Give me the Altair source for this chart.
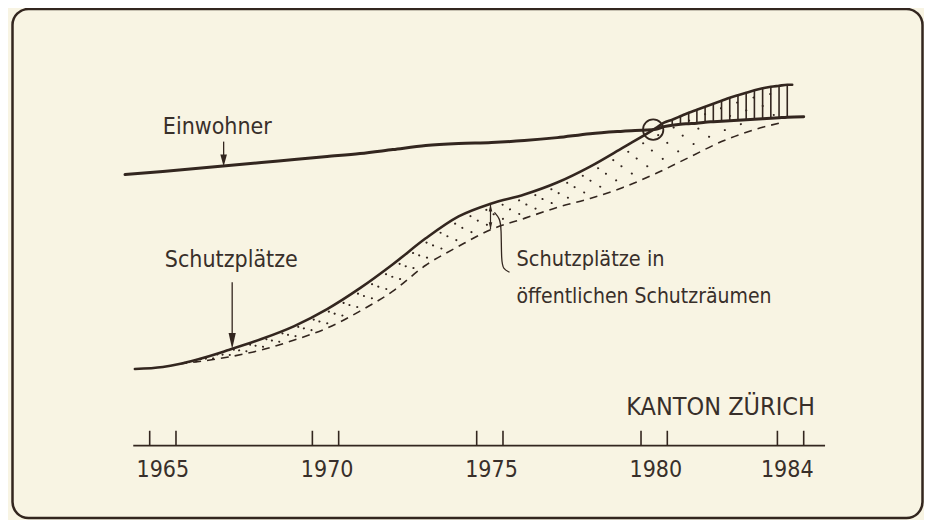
import altair as alt
import pandas as pd

# ---------------- data (arbitrary height units above the time axis) -------------
years_einw = [1963.85, 1965, 1966, 1967, 1968, 1969, 1970, 1971, 1972, 1973, 1974, 1975, 1976,
              1977, 1978, 1979, 1980, 1980.25, 1980.5, 1980.75, 1981, 1981.25, 1981.5, 1981.75,
              1982, 1982.25, 1982.5, 1982.75, 1983, 1983.25, 1983.5, 1983.75, 1984, 1984.5]
einwohner = [272, 275, 278, 281, 284, 287, 290, 293, 297, 301, 303, 304, 306,
             309, 313, 315.5, 317.5, 320, 321.5, 322.5, 323, 323.5, 324.5, 325,
             325.5, 326, 326.5, 327, 327.5, 328, 328.5, 329, 329.5, 330]

years_schutz = [1964.15, 1965, 1965.5, 1966, 1967, 1968, 1969, 1970, 1971, 1972, 1973, 1974,
                1975, 1976, 1977, 1978, 1979, 1980, 1980.25, 1980.5, 1980.75, 1981, 1981.25,
                1981.5, 1981.75, 1982, 1982.25, 1982.5, 1982.75, 1983, 1983.25, 1983.5,
                1983.75, 1984, 1984.15]
schutzplaetze = [77, 79, 82, 86, 96, 107, 120, 137, 158, 182, 208, 230,
                 243, 252, 264, 280, 299, 318.5, 324, 327, 330.5, 334, 337,
                 340, 343, 346, 349, 351.5, 354, 356.5, 358.5, 360,
                 361, 362, 362]

years_public = [1965.5, 1966, 1967, 1968, 1969, 1970, 1971, 1972, 1973, 1974, 1975, 1976,
                1977, 1978, 1979, 1980, 1981, 1982, 1983, 1983.75]
oeffentlich = [82, 84, 89, 96, 106, 118, 135, 155, 181, 200, 217, 228,
               239, 248, 259, 273, 289, 305, 317, 323.5]

crossing_year = [1979.92]
crossing_value = [317]

label_years = [1965, 1970, 1975, 1980, 1984]
label_texts = ["1965", "1970", "1975", "1980", "1984"]
tick_years = [1964.6, 1965.4, 1969.55, 1970.35, 1974.55, 1975.35, 1979.55, 1980.35, 1983.7, 1984.5]
axis_extent = [1964.1, 1985.15]

ann_texts = ["Einwohner", "Schutzplätze", "Schutzplätze in", "öffentlichen Schutzräumen", "KANTON ZÜRICH"]
ann_years = [1965.0, 1965.06, 1975.76, 1975.76, 1979.1]
ann_values = [313, 179, 180, 143, 31]
ann_sizes = [23, 23, 21.5, 21, 25]

# arrows: (year, stem top, stem bottom, head centre)
arrow_years = [1966.85, 1967.11]
arrow_top = [305, 164]
arrow_bottom = [288, 110]
arrow_head = [286, 105]

bracket_year = [1975.09, 1975.25, 1975.30, 1975.30, 1975.36, 1975.55]
bracket_value = [234, 228, 219, 185, 177, 174]
double_arrow_year = [1974.97]
double_arrow_top = [242]
double_arrow_bottom = [217]

# ---------------- styling -------------
INK = "#33261f"
TXT = "#382f2a"
PAPER = "#f8f4e3"
FONT = "'DejaVu Sans Condensed', 'Roboto Condensed', 'Liberation Sans Narrow', Roboto, sans-serif"

xs = alt.Scale(domain=[1960.4255, 1988.115], nice=False, zero=False)
ys = alt.Scale(domain=[-72.5, 438], nice=False, zero=False)
X = lambda f: alt.X(f, type="quantitative", scale=xs, axis=None)
Y = lambda f: alt.Y(f, type="quantitative", scale=ys, axis=None)

df_e = pd.DataFrame({"year": years_einw, "v": einwohner})
df_s = pd.DataFrame({"year": years_schutz, "v": schutzplaetze})
df_p = pd.DataFrame({"year": years_public, "v": oeffentlich})

# stipple between total shelters and public shelters
sp = pd.merge(df_s, df_p, on="year", suffixes=("_s", "_p"))
stipple_layers = []
for frac, off in [(0.25, 0), (0.55, 7), (0.82, 12)]:
    d = pd.DataFrame({"year": sp["year"], "v": sp["v_p"] + frac * (sp["v_s"] - sp["v_p"])})
    stipple_layers.append(
        alt.Chart(d).mark_line(color=INK, strokeWidth=2, strokeCap="round",
                               strokeDash=[0.1, 17], strokeDashOffset=off,
                               interpolate="monotone")
        .encode(x=X("year"), y=Y("v"))
    )

# hatch between Schutzplätze (top) and Einwohner (bottom) after crossing
hatch = pd.merge(df_s, df_e, on="year", suffixes=("_s", "_e"))
hatch = hatch[(hatch["year"] >= 1980.5) & (hatch["year"] <= 1984)]

einw_line = alt.Chart(df_e).mark_line(color=INK, strokeWidth=3, interpolate="monotone",
                                      strokeCap="round").encode(x=X("year"), y=Y("v"))
schutz_line = alt.Chart(df_s).mark_line(color=INK, strokeWidth=2.6, interpolate="monotone",
                                        strokeCap="round").encode(x=X("year"), y=Y("v"))
public_line = alt.Chart(df_p).mark_line(color=INK, strokeWidth=1.6, strokeDash=[8, 6],
                                        interpolate="monotone").encode(x=X("year"), y=Y("v"))
hatch_rules = alt.Chart(hatch).mark_rule(color=INK, strokeWidth=1.6).encode(
    x=X("year"), y=Y("v_e"), y2="v_s")

circle = alt.Chart(pd.DataFrame({"year": crossing_year, "v": crossing_value})).mark_point(
    shape="circle", size=415, filled=False, color=INK, strokeWidth=1.8, opacity=1
).encode(x=X("year"), y=Y("v"))

axis_df = pd.DataFrame({"a": [axis_extent[0]], "b": [axis_extent[1]], "v": [0]})
axis_line = alt.Chart(axis_df).mark_rule(color=INK, strokeWidth=1.8).encode(
    x=X("a"), x2="b", y=Y("v"))
ticks = alt.Chart(pd.DataFrame({"year": tick_years, "v0": 0, "v1": 15})).mark_rule(
    color=INK, strokeWidth=1.6).encode(x=X("year"), y=Y("v0"), y2="v1")
year_labels = alt.Chart(pd.DataFrame({"year": label_years, "t": label_texts, "v": -31})).mark_text(
    font=FONT, fontSize=23, color=TXT, align="center", baseline="alphabetic"
).encode(x=X("year"), y=Y("v"), text="t:N")

ann = alt.Chart(pd.DataFrame({"t": ann_texts, "year": ann_years, "v": ann_values, "s": ann_sizes})).mark_text(
    font=FONT, color=TXT, align="left", baseline="alphabetic"
).encode(x=X("year"), y=Y("v"), text="t:N", size=alt.Size("s:Q", scale=None, legend=None))

arr_df = pd.DataFrame({"year": arrow_years, "top": arrow_top, "bot": arrow_bottom, "head": arrow_head})
arrow_stems = alt.Chart(arr_df).mark_rule(color=INK, strokeWidth=1.3).encode(
    x=X("year"), y=Y("top"), y2="bot")
arrow_head1 = alt.Chart(arr_df.iloc[[0]]).mark_point(
    shape="M-0.55,-1L0.55,-1L0,1Z", size=144, filled=True, color=INK, opacity=1
).encode(x=X("year"), y=Y("head"))
arrow_head2 = alt.Chart(arr_df.iloc[[1]]).mark_point(
    shape="M-0.45,-1L0.45,-1L0,1Z", size=256, filled=True, color=INK, opacity=1
).encode(x=X("year"), y=Y("head"))

da_df = pd.DataFrame({"year": double_arrow_year, "top": double_arrow_top, "bot": double_arrow_bottom})
da_stem = alt.Chart(da_df).mark_rule(color=INK, strokeWidth=1.2).encode(x=X("year"), y=Y("top"), y2="bot")
da_up = alt.Chart(da_df).mark_point(shape="M-0.5,1L0.5,1L0,-1Z", size=49, filled=True,
                                    color=INK, opacity=1, yOffset=3.5).encode(x=X("year"), y=Y("top"))
da_down = alt.Chart(da_df).mark_point(shape="M-0.5,-1L0.5,-1L0,1Z", size=49, filled=True,
                                      color=INK, opacity=1, yOffset=-3.5).encode(x=X("year"), y=Y("bot"))

bracket = alt.Chart(pd.DataFrame({"year": bracket_year, "v": bracket_value,
                                  "i": list(range(len(bracket_year)))})).mark_line(
    color=INK, strokeWidth=1.3, interpolate="basis"
).encode(x=X("year"), y=Y("v"), order="i:Q")

chart = alt.layer(
    *stipple_layers, public_line, hatch_rules, einw_line, schutz_line, circle,
    axis_line, ticks, year_labels, ann, arrow_stems, arrow_head1, arrow_head2,
    da_stem, da_up, da_down, bracket
).properties(
    width=910, height=509,
    padding={"left": 4.5, "top": 1, "right": 1.5, "bottom": 1.5},
    autosize=alt.AutoSizeParams(type="none"),
    background=PAPER,
).configure_view(
    stroke=INK, strokeWidth=2.5, cornerRadius=16, fill=PAPER
)

chart.save("out.html", embed_options={"renderer": "svg", "actions": False})
